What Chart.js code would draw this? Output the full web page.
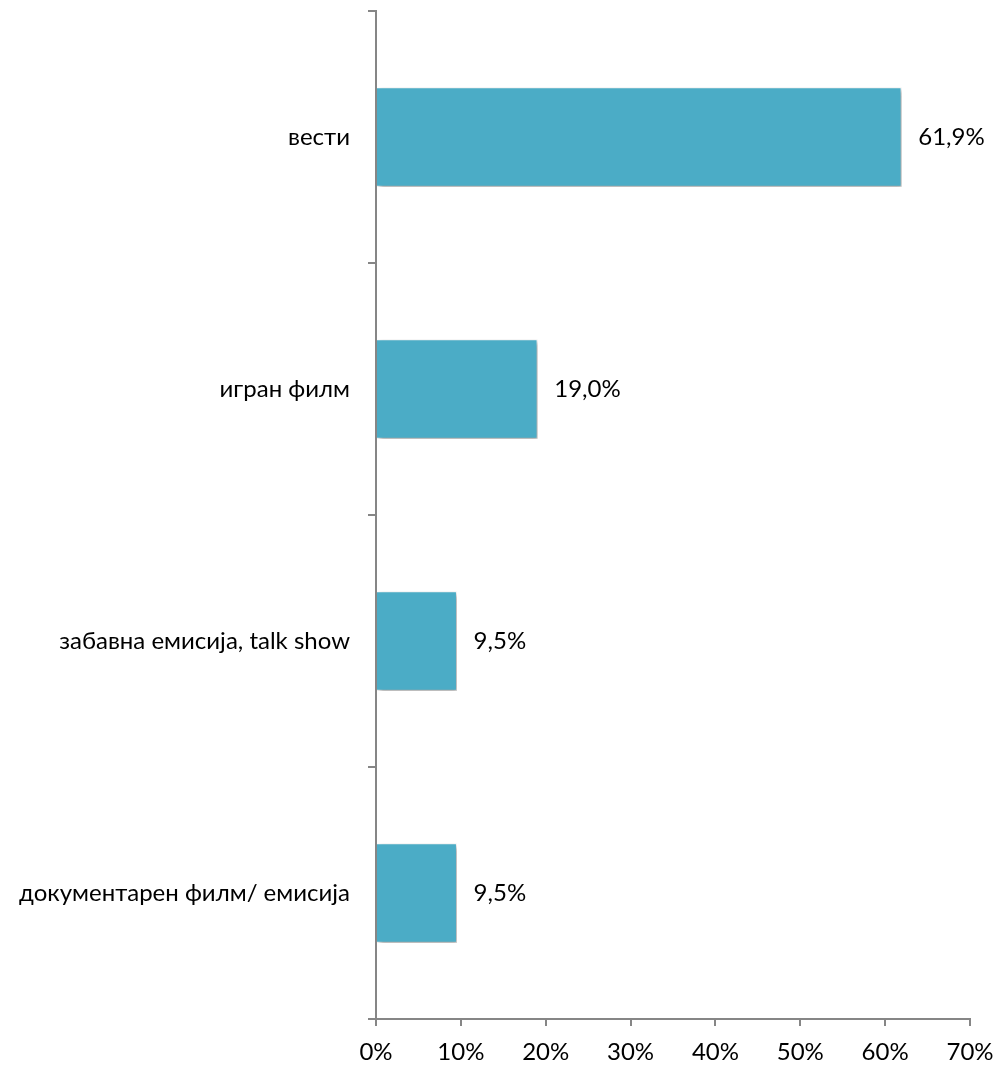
<!DOCTYPE html>
<html>
<head>
<meta charset="utf-8">
<script src="https://cdn.jsdelivr.net/npm/chart.js@4.4.0/dist/chart.umd.min.js"></script>
<style>
  html, body { margin: 0; padding: 0; background: #fff; }
  #wrap { width: 999px; height: 1066px; }
</style>
</head>
<body>
<div id="wrap"><canvas id="barChart"></canvas></div>
<script>
var barColor = '#4BACC6';
var axisColor = '#868686';

var categories = ['вести', 'игран филм', 'забавна емисија, talk show', 'документарен филм/ емисија'];
var shares = [61.9, 19.0, 9.5, 9.5];
var xTicks = [0, 10, 20, 30, 40, 50, 60, 70];

Chart.defaults.font.family = 'Lato, "Open Sans", sans-serif';
Chart.defaults.color = '#000';

// soft drop shadow under the bars
var barShadow = {
    id: 'barShadow',
    beforeDatasetsDraw: function(chart) {
        var c = chart.ctx;
        c.save();
        c.shadowColor = 'rgba(0, 0, 0, 0.4)';
        c.shadowBlur = 5;
        c.shadowOffsetX = 2;
        c.shadowOffsetY = 3;
    },
    afterDatasetsDraw: function(chart) {
        chart.ctx.restore();
    }
};

// value labels right of each bar
var valueLabels = {
    id: 'valueLabels',
    afterDraw: function(chart) {
        var c = chart.ctx;
        var meta = chart.getDatasetMeta(0);
        c.save();
        c.font = '24px Lato, "Open Sans", sans-serif';
        c.fillStyle = '#000';
        c.textAlign = 'left';
        c.textBaseline = 'middle';
        meta.data.forEach(function(bar, i) {
            var txt = shares[i].toFixed(1).replace('.', ',') + '%';
            c.fillText(txt, bar.x + 17, bar.y);
        });
        c.restore();
    }
};

var ctx = document.getElementById('barChart').getContext('2d');

new Chart(ctx, {
    type: 'bar',
    data: {
        labels: categories,
        datasets: [{
            data: shares,
            backgroundColor: barColor,
            borderColor: '#ffffff',
            borderWidth: 1,
            barThickness: 99
        }]
    },
    options: {
        indexAxis: 'y',
        responsive: true,
        maintainAspectRatio: false,
        animation: false,
        layout: {
            padding: { top: 11, right: 29, left: 0, bottom: 0 }
        },
        plugins: {
            legend: { display: false },
            tooltip: { enabled: false }
        },
        scales: {
            x: {
                min: 0,
                max: 70,
                afterBuildTicks: function(scale) {
                    scale.ticks = xTicks.map(function(v) { return { value: v }; });
                },
                afterFit: function(scale) {
                    scale.height = 47;
                    scale.paddingLeft = 0;
                    scale.paddingRight = 0;
                },
                border: { color: axisColor, width: 2 },
                grid: {
                    drawOnChartArea: false,
                    drawTicks: true,
                    tickLength: 7,
                    color: axisColor,
                    lineWidth: 2
                },
                ticks: {
                    padding: 12,
                    font: { size: 24 },
                    maxRotation: 0,
                    callback: function(value) {
                        return value + '%';
                    }
                }
            },
            y: {
                afterFit: function(scale) {
                    scale.width = 376;
                    scale.paddingTop = 0;
                    scale.paddingBottom = 0;
                },
                border: { color: axisColor, width: 2 },
                grid: {
                    offset: true,
                    drawOnChartArea: false,
                    drawTicks: true,
                    tickLength: 8,
                    color: axisColor,
                    lineWidth: 2
                },
                ticks: {
                    padding: 18,
                    font: { size: 24 }
                }
            }
        }
    },
    plugins: [barShadow, valueLabels]
});
</script>
</body>
</html>
